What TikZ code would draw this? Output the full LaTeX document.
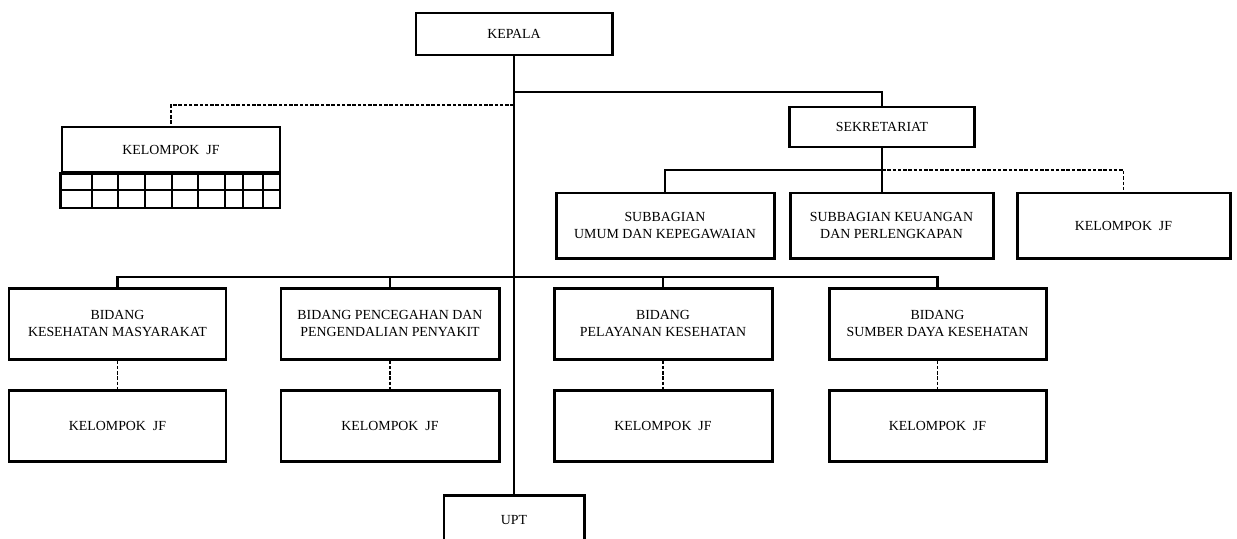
\documentclass[tikz,border=0pt]{standalone}
\usepackage{tikz}
\usepackage{fontspec}
\setmainfont{Liberation Serif}

\begin{document}
\begin{tikzpicture}[x=0.02cm, y=-0.02cm,
  box/.style 2 args={draw, line width=1.7pt, fill=white, align=center, inner sep=0pt,
    minimum width=#1*0.02cm, minimum height=#2*0.02cm,
    font=\fontsize{7.9}{9.6}\selectfont},
  link/.style={line width=1.4pt},
  dlink/.style={line width=0.8pt, dash pattern=on 2pt off 1pt}]
\useasboundingbox (0,0) rectangle (1237,538);

% pimpinan dan sekretariat
\node[box={196}{42}] (kepala) at (514,34) {KEPALA};
\node[box={185}{40}] (sek) at (882,127) {SEKRETARIAT};
\node[box={218}{45}] (kjf0) at (171,149.5) {KELOMPOK~ JF};

\node[box={218}{65}] (sub1) at (665,225.5) {SUBBAGIAN\\UMUM DAN KEPEGAWAIAN};
\node[box={203}{65}] (sub2) at (891.5,225.5) {SUBBAGIAN KEUANGAN\\DAN PERLENGKAPAN};
\node[box={213}{65}] (kjfs) at (1123.5,225.5) {KELOMPOK~ JF};

% bidang
\node[box={217}{71}] (bid1) at (117.5,323.5) {BIDANG\\KESEHATAN MASYARAKAT};
\node[box={218}{71}] (bid2) at (390,323.5) {BIDANG PENCEGAHAN DAN\\PENGENDALIAN PENYAKIT};
\node[box={218}{71}] (bid3) at (663,323.5) {BIDANG\\PELAYANAN KESEHATAN};
\node[box={217}{71}] (bid4) at (937.5,323.5) {BIDANG\\SUMBER DAYA KESEHATAN};

\node[box={217}{71}] (kjf1) at (117.5,425.5) {KELOMPOK~ JF};
\node[box={218}{71}] (kjf2) at (390,425.5) {KELOMPOK~ JF};
\node[box={218}{71}] (kjf3) at (663,425.5) {KELOMPOK~ JF};
\node[box={217}{71}] (kjf4) at (937.5,425.5) {KELOMPOK~ JF};

\node[box={140}{50}] (upt) at (514,520) {UPT};

% kotak jabatan fungsional
\draw[line width=1.7pt] (kjf0.south west) rectangle (280,208);
\draw[line width=1.7pt] (62,190) -- (280,190);
\foreach \xa in {92,118,145,172,198,225,243,263}
  \draw[line width=1.7pt] (\xa,172) -- (\xa,208);

% garis komando
\coordinate (tbar) at (kepala.south |- 0,92);
\coordinate (tdash) at (kepala.south |- 0,105);
\coordinate (sbar) at (sek.south |- 0,170);
\coordinate (bbar) at (0,277);

\draw[link] (kepala.south) -- (upt.north);
\draw[link] (tbar) -| (sek.north);
\draw[dlink] (tdash) -| (kjf0.north);

\draw[link] (sek.south) -- (sek.south |- sub2.north);
\draw[link] (sub1.north) |- (sbar);
\draw[dlink] (sbar) -| (kjfs.north);

\draw[link] (bid1.north) |- (bid4.north |- bbar) -- (bid4.north);
\draw[link] (bid2.north) -- (bid2.north |- bbar);
\draw[link] (bid3.north) -- (bid3.north |- bbar);

\foreach \i in {1,2,3,4}
  \draw[dlink] (bid\i.south) -- (kjf\i.north);
\end{tikzpicture}
\end{document}
